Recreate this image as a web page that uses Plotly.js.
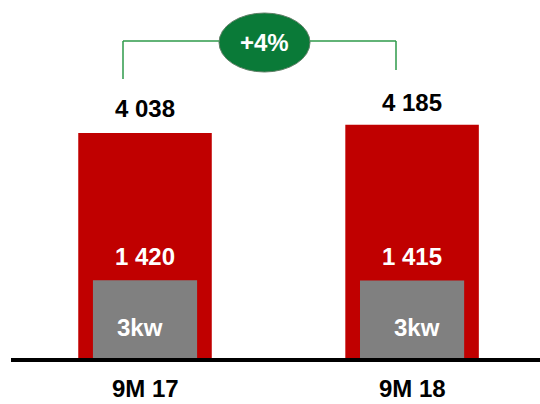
<!DOCTYPE html>
<html>
<head>
<meta charset="utf-8">
<script src="https://cdn.plot.ly/plotly-3.0.1.min.js"></script>
<style>html,body{margin:0;padding:0;background:#fff;}#chart{width:540px;height:404px;}</style>
</head>
<body>
<div id="chart"></div>
<script>
// Data
const categories = ['9M 17', '9M 18'];
const totalValues = [4038, 4185];
const threeKwValues = [1420, 1415];
const totalLabels = ['4 038', '4 185'];
const threeKwLabels = ['1 420', '1 415'];
const innerLabel = '3kw';
const growthLabel = '+4%';

const xPos = [0, 1];
const font = 'Liberation Sans, Arial, sans-serif';

const traces = [
  {
    type: 'bar', x: xPos, y: totalValues, width: 0.5,
    marker: {color: '#c00000', line: {width: 0}}, hoverinfo: 'skip'
  },
  {
    type: 'bar', x: xPos, y: threeKwValues, width: 0.39,
    marker: {color: '#808080', line: {width: 0}}, hoverinfo: 'skip'
  }
];

const annotations = [];
xPos.forEach((x, i) => {
  annotations.push({x: x, y: totalValues[i], xref: 'x', yref: 'y', text: '<b>' + totalLabels[i] + '</b>',
    showarrow: false, yanchor: 'middle', yshift: i === 0 ? 24 : 22.5, font: {family: font, size: 24, color: '#000'}});
  annotations.push({x: x, y: threeKwValues[i], xref: 'x', yref: 'y', text: '<b>' + threeKwLabels[i] + '</b>',
    showarrow: false, yanchor: 'middle', yshift: 24, font: {family: font, size: 24, color: '#fff'}});
  annotations.push({x: x, y: threeKwValues[i] / 2, xref: 'x', yref: 'y', text: '<b>' + innerLabel + '</b>',
    showarrow: false, yanchor: 'middle', xshift: i === 0 ? -5 : 5, yshift: -7, font: {family: font, size: 24, color: '#fff'}});
  annotations.push({x: x, y: 0, xref: 'x', yref: 'y', text: '<b>' + categories[i] + '</b>',
    showarrow: false, yanchor: 'middle', yshift: -29, font: {family: font, size: 24, color: '#000'}});
});
annotations.push({x: 264.5 / 540, y: 1 - 43 / 404, xref: 'paper', yref: 'paper', text: '<b>' + growthLabel + '</b>',
  showarrow: false, xanchor: 'center', yanchor: 'middle', font: {family: font, size: 24, color: '#fff'}});

const px = v => v / 540;
const py = v => 1 - v / 404;
const green = '#2e9a4a';
const shapes = [
  // baseline
  {type: 'line', xref: 'paper', yref: 'y', x0: px(11), x1: 1, y0: 0, y1: 0, line: {color: '#000', width: 4}},
  // bracket
  {type: 'line', xref: 'paper', yref: 'paper', x0: px(123), x1: px(123), y0: py(79), y1: py(41), line: {color: green, width: 1.5}},
  {type: 'line', xref: 'paper', yref: 'paper', x0: px(396), x1: px(396), y0: py(70), y1: py(41), line: {color: green, width: 1.5}},
  {type: 'line', xref: 'paper', yref: 'paper', x0: px(123), x1: px(396), y0: py(41), y1: py(41), line: {color: green, width: 1.5}},
  // ellipse
  {type: 'circle', xref: 'paper', yref: 'paper', x0: px(219), x1: px(310), y0: py(72), y1: py(13),
    fillcolor: '#0a7a38', line: {color: '#5f7f66', width: 1}, layer: 'above'}
];

const layout = {
  width: 540, height: 404,
  margin: {l: 0, r: 0, t: 0, b: 0},
  paper_bgcolor: '#fff', plot_bgcolor: '#fff',
  barmode: 'overlay', showlegend: false,
  xaxis: {range: [-0.543, 1.479], visible: false, fixedrange: true},
  yaxis: {range: [-783, 6403], visible: false, fixedrange: true},
  shapes: shapes,
  annotations: annotations
};

Plotly.newPlot('chart', traces, layout, {displayModeBar: false, staticPlot: true});
</script>
</body>
</html>
